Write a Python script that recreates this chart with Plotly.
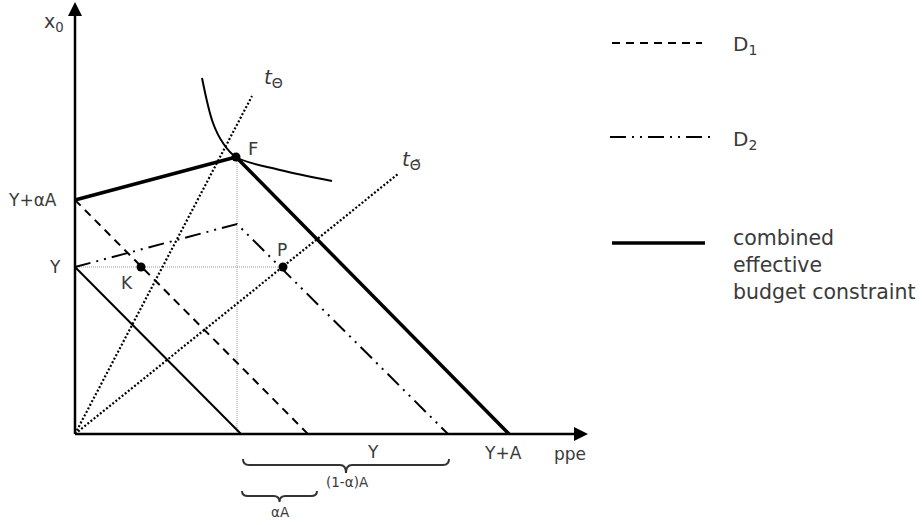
import plotly.graph_objects as go

# ---------------- data (diagram units, origin at axes corner) ----------------
thin_budget_x = [0, 166]
thin_budget_y = [167, 0]

d1_x = [0, 233]
d1_y = [234, 0]

d2_x = [0, 162, 373]
d2_y = [167, 210, 0]

combined_x = [0, 161, 434]
combined_y = [234, 277, 0]

t_theta_x = [0, 177]
t_theta_y = [0, 338]

t_theta_tilde_x = [0, 323]
t_theta_tilde_y = [0, 260]

guide_v_x = [162, 162]
guide_v_y = [0, 277]
guide_h_x = [0, 208]
guide_h_y = [167, 167]

indiff_x = [127, 138, 148, 161, 205, 257]
indiff_y = [356, 311, 291, 277, 264, 253]

point_names = ["K", "P", "F"]
point_x = [66, 208, 161]
point_y = [167, 167, 277]

x_axis_end = 513
y_axis_end = 432

# legend samples
leg_d1_x = [537, 627]
leg_d1_y = [391, 391]
leg_d2_x = [535, 638]
leg_d2_y = [297, 297]
leg_comb_x = [537, 630]
leg_comb_y = [191, 191]

# braces: (x_left, x_right, y_end, y_base, y_tip)
brace_big = (168, 374, -25, -31, -39)
brace_small = (167, 242, -57, -62, -68)

FONT = "DejaVu Sans"
TXT = "#3a3a3a"
D1_DASH = "8px,6px"
D2_DASH = "16px,6px,2px,6px,2px,6px"

fig = go.Figure()

def line(x, y, width=2, dash="solid", color="black"):
    fig.add_trace(go.Scatter(x=x, y=y, mode="lines",
                             line=dict(color=color, width=width, dash=dash),
                             hoverinfo="skip", showlegend=False, cliponaxis=False))

# guides
line(guide_v_x, guide_v_y, width=1, dash="1px,1px", color="#9a9a9a")
line(guide_h_x, guide_h_y, width=1, dash="1px,1px", color="#9a9a9a")
# rays
line(t_theta_x, t_theta_y, width=2.2, dash="2px,2px")
line(t_theta_tilde_x, t_theta_tilde_y, width=2.2, dash="2px,2px")
# budget lines
line(thin_budget_x, thin_budget_y, width=2)
line(d1_x, d1_y, width=2, dash=D1_DASH)
line(d2_x, d2_y, width=2, dash=D2_DASH)
line(combined_x, combined_y, width=3.5)
# indifference curve
fig.add_trace(go.Scatter(x=indiff_x, y=indiff_y, mode="lines",
                         line=dict(color="black", width=2, shape="spline", smoothing=1.0),
                         hoverinfo="skip", showlegend=False))
# points
fig.add_trace(go.Scatter(x=point_x, y=point_y, mode="markers",
                         marker=dict(color="black", size=9),
                         hoverinfo="skip", showlegend=False))

# axes
line([0, 0], [0, y_axis_end - 12], width=2.5)
line([0, x_axis_end - 12], [0, 0], width=2.5)
fig.add_shape(type="path", xref="x", yref="y", fillcolor="black", line=dict(width=0),
              path=f"M -7,{y_axis_end-14} L 7,{y_axis_end-14} L 0,{y_axis_end} Z")
fig.add_shape(type="path", xref="x", yref="y", fillcolor="black", line=dict(width=0),
              path=f"M {x_axis_end-14},-7 L {x_axis_end-14},7 L {x_axis_end},0 Z")

# legend samples
line(leg_d1_x, leg_d1_y, width=2, dash=D1_DASH)
line(leg_d2_x, leg_d2_y, width=2, dash=D2_DASH)
line(leg_comb_x, leg_comb_y, width=3.5)

# braces
def brace(b):
    x0, x1, ye, yb, yt = b
    xm = (x0 + x1) / 2
    r = 6
    p = (f"M {x0},{ye} Q {x0},{yb} {x0+r},{yb} L {xm-r},{yb} "
         f"Q {xm},{yb} {xm},{yt} Q {xm},{yb} {xm+r},{yb} "
         f"L {x1-r},{yb} Q {x1},{yb} {x1},{ye}")
    fig.add_shape(type="path", xref="x", yref="y", path=p,
                  line=dict(color="#333333", width=2))

brace(brace_big)
brace(brace_small)

def text(x, y, s, size=17, anchor="center", color=TXT):
    fig.add_annotation(x=x, y=y, text=s, showarrow=False, xref="x", yref="y",
                       xanchor=anchor, yanchor="middle",
                       font=dict(family=FONT, size=size, color=color))

text(-21, 412, "x<sub>0</sub>", 19)
text(-16, 234, "Y+αA", 17, anchor="right")
text(-20, 167, "Y", 17)
text(52, 151, "K", 17)
text(207, 184, "P", 17)
text(178, 286, "F", 18)
text(198, 356, "<i>t</i><sub>Θ</sub>", 20)
text(336, 274, "<i>t</i><sub>Θ̃</sub>", 20)
text(428, -19, "Y+A", 17)
text(495, -20, "ppe", 17)
text(298, -18, "Y", 17)
text(272, -48, "(1-α)A", 13.5)
text(205, -78, "αA", 13.5)

text(656, 389, "D<sub>1</sub>", 20, anchor="left")
text(656, 294, "D<sub>2</sub>", 20, anchor="left")
text(656, 196, "combined", 20.5, anchor="left")
text(656, 169, "effective", 20.5, anchor="left")
text(656, 142, "budget constraint", 20.5, anchor="left")

fig.update_layout(
    width=924, height=525, autosize=False,
    margin=dict(l=0, r=0, t=0, b=0),
    paper_bgcolor="white", plot_bgcolor="white",
    xaxis=dict(range=[-75, 849], visible=False, fixedrange=True),
    yaxis=dict(range=[-91, 434], visible=False, fixedrange=True),
    showlegend=False,
)

fig.write_html("out.html",
               config={"displayModeBar": False},
               post_script="document.body.style.margin='0px';document.body.style.overflow='hidden';")
